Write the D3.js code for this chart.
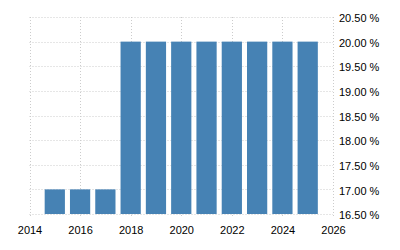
<!DOCTYPE html>
<html>
<head>
<meta charset="utf-8">
<script src="https://cdn.jsdelivr.net/npm/d3@7"></script>
<style>
  body { margin: 0; background: #fff; }
  svg { display: block; }
  .tick text { font-family: "Liberation Sans", Arial, sans-serif; font-size: 11px; fill: #000; }
  .grid line { stroke: #ccc; stroke-dasharray: 1,2; }
</style>
</head>
<body>
<svg width="400" height="250"></svg>
<script>
// data
var years = [2015, 2016, 2017, 2018, 2019, 2020, 2021, 2022, 2023, 2024, 2025];
var rates = [17.00, 17.00, 17.00, 20.00, 20.00, 20.00, 20.00, 20.00, 20.00, 20.00, 20.00];
var xTicks = [2014, 2016, 2018, 2020, 2022, 2024, 2026];
var yTicks = [16.5, 17, 17.5, 18, 18.5, 19, 19.5, 20, 20.5];

var svg = d3.select("svg");

var margin = {left: 29.5, right: 67, top: 17, bottom: 36};
var width = +svg.attr("width"),
    height = +svg.attr("height");

var x = d3.scaleLinear()
    .domain([2014, 2026])
    .range([margin.left, width - margin.right]);

var y = d3.scaleLinear()
    .domain([16.5, 20.5])
    .range([height - margin.bottom, margin.top]);

// grid
var grid = svg.append("g").attr("class", "grid");
grid.selectAll(".v")
  .data(xTicks)
  .enter().append("line")
    .attr("class", "v")
    .attr("x1", function(d) { return Math.round(x(d)) + 0.5; })
    .attr("x2", function(d) { return Math.round(x(d)) + 0.5; })
    .attr("y1", y(20.5))
    .attr("y2", y(16.5) + 3);
grid.selectAll(".h")
  .data(yTicks)
  .enter().append("line")
    .attr("class", "h")
    .attr("x1", x(2014))
    .attr("x2", x(2026))
    .attr("y1", function(d) { return Math.round(y(d)) + 0.5; })
    .attr("y2", function(d) { return Math.round(y(d)) + 0.5; });

// bars
var bw = (x(1) - x(0)) * 0.8;
svg.append("g")
  .selectAll("rect")
  .data(years)
  .enter().append("rect")
    .attr("x", function(d) { return x(d) - bw / 2; })
    .attr("width", bw)
    .attr("y", function(d, i) { return y(rates[i]); })
    .attr("height", function(d, i) { return y(16.5) - y(rates[i]); })
    .attr("fill", "#4682b4");

// axes
var xAxis = svg.append("g")
    .attr("transform", "translate(0," + (y(16.5) + 9) + ")")
    .call(d3.axisBottom(x).tickValues(xTicks).tickFormat(d3.format("d")).tickSize(0));
xAxis.select(".domain").remove();

var yAxis = svg.append("g")
    .attr("transform", "translate(" + (x(2026) + 3) + ",0)")
    .call(d3.axisRight(y).tickValues(yTicks)
      .tickFormat(function(d) { return d3.format(".2f")(d) + " %"; })
      .tickSize(0));
yAxis.select(".domain").remove();
yAxis.selectAll("text").attr("dy", "0.42em");
</script>
</body>
</html>
